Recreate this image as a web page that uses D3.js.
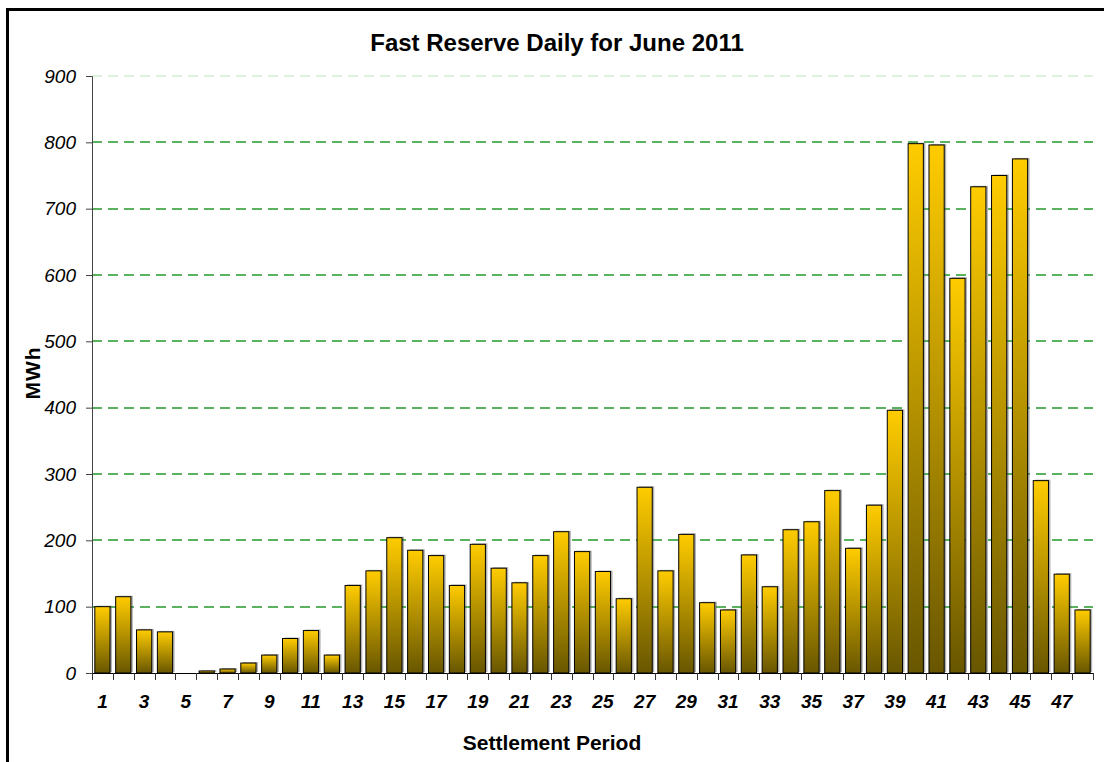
<!DOCTYPE html>
<html lang="en">
<head>
    <meta charset="UTF-8">
    <title>Fast Reserve Daily for June 2011</title>
    <script src="https://cdn.jsdelivr.net/npm/d3@7"></script>
    <style>
        body {
            margin: 0;
            padding: 0;
            background: #fff;
        }
        text {
            font-family: "Liberation Sans", Arial, sans-serif;
            fill: #000;
        }
        .frame {
            fill: none;
            stroke: #000;
            stroke-width: 3;
        }
        .grid line {
            stroke: #22992a;
            stroke-width: 1.4;
            stroke-dasharray: 10 6;
        }
        .grid line.top {
            stroke: #d4eed4;
        }
        .bar {
            stroke: #000;
            stroke-width: 1;
        }
        .shadow {
            fill: #555;
            opacity: .45;
        }
        .ylab text {
            font-size: 19px;
            font-style: italic;
        }
        .xlab text {
            font-size: 19px;
            font-style: italic;
            font-weight: bold;
        }
    </style>
</head>
<body>
<svg width="1104" height="762"></svg>
<script>
    // settlement periods 1..48
    var periods = d3.range(1, 49);
    // MWh per period
    var values = [
        100, 115, 65, 62, 0, 3, 6, 15, 27, 52,
        64, 27, 132, 154, 204, 185, 177, 132, 194, 158,
        136, 177, 213, 183, 153, 112, 280, 154, 209, 106,
        95, 178, 130, 216, 228, 275, 188, 253, 396, 798,
        796, 595, 733, 750, 775, 290, 149, 95
    ];
    var yTicks = [0, 100, 200, 300, 400, 500, 600, 700, 800, 900];
    var xLabels = periods.filter(function (p) { return p % 2 === 1; });

    var plotL = 92, plotR = 1093, plotT = 76, plotB = 673;

    var svg = d3.select('svg');

    // outer frame (only left and top edges are visible in the picture)
    svg.append('rect')
        .attr('class', 'frame')
        .attr('x', 7.5)
        .attr('y', 9.5)
        .attr('width', 1120)
        .attr('height', 780);

    var x = d3.scaleBand()
        .domain(periods)
        .range([plotL, plotR])
        .paddingInner(0.27)
        .paddingOuter(0.135);

    var y = d3.scaleLinear()
        .domain([0, 900])
        .range([plotB, plotT]);

    // gradient for the bars: gold on top, dark olive at the foot
    var grad = svg.append('defs').append('linearGradient')
        .attr('id', 'gold')
        .attr('x1', 0).attr('y1', 0)
        .attr('x2', 0).attr('y2', 1);
    grad.append('stop').attr('offset', '0%').attr('stop-color', '#ffcc00');
    grad.append('stop').attr('offset', '100%').attr('stop-color', '#685600');

    // gridlines
    svg.append('g')
        .attr('class', 'grid')
        .selectAll('line')
        .data(yTicks.filter(function (t) { return t > 0; }))
        .enter().append('line')
        .attr('class', function (d) { return d === 900 ? 'top' : null; })
        .attr('x1', plotL)
        .attr('x2', plotR)
        .attr('y1', function (d) { return Math.round(y(d)); })
        .attr('y2', function (d) { return Math.round(y(d)); });

    var data = periods.map(function (p, i) { return { p: p, v: values[i] }; });
    var bars = svg.append('g').selectAll('g')
        .data(data.filter(function (d) { return d.v > 0; }))
        .enter().append('g');

    bars.append('rect')
        .attr('class', 'shadow')
        .attr('x', function (d) { return x(d.p) + 2; })
        .attr('y', function (d) { return y(d.v) - 1; })
        .attr('width', x.bandwidth())
        .attr('height', function (d) { return plotB - y(d.v); });

    bars.append('rect')
        .attr('class', 'bar')
        .attr('fill', 'url(#gold)')
        .attr('x', function (d) { return x(d.p); })
        .attr('y', function (d) { return y(d.v); })
        .attr('width', x.bandwidth())
        .attr('height', function (d) { return plotB - y(d.v); });

    // y axis
    var yAxis = svg.append('g')
        .attr('class', 'ylab')
        .attr('transform', 'translate(' + plotL + ',0)')
        .call(d3.axisLeft(y).tickValues(yTicks).tickSize(6).tickPadding(10));
    yAxis.select('.domain').attr('stroke', '#444');
    yAxis.selectAll('.tick line').attr('stroke', '#444');
    yAxis.selectAll('text').attr('font-family', null).attr('font-size', null);

    // x axis: labels on odd periods, ticks on the category edges
    var xAxis = svg.append('g')
        .attr('class', 'xlab')
        .attr('transform', 'translate(0,' + plotB + ')')
        .call(d3.axisBottom(x).tickValues(xLabels).tickSize(0).tickPadding(22));
    xAxis.select('.domain').remove();
    xAxis.selectAll('text').attr('font-family', null).attr('font-size', null);

    svg.append('line')
        .attr('x1', plotL).attr('x2', plotR)
        .attr('y1', plotB + 0.5).attr('y2', plotB + 0.5)
        .attr('stroke', '#000');

    var step = x.step();
    svg.append('g').selectAll('line')
        .data(d3.range(0, periods.length + 1))
        .enter().append('line')
        .attr('x1', function (i) { return Math.round(plotL + i * step) + 0.5; })
        .attr('x2', function (i) { return Math.round(plotL + i * step) + 0.5; })
        .attr('y1', plotB)
        .attr('y2', plotB + 7)
        .attr('stroke', '#333');

    // titles
    svg.append('text')
        .attr('x', 557)
        .attr('y', 51)
        .attr('text-anchor', 'middle')
        .style('font-size', '24px')
        .style('font-weight', 'bold')
        .text('Fast Reserve Daily for June 2011');

    svg.append('text')
        .attr('x', 552)
        .attr('y', 750)
        .attr('text-anchor', 'middle')
        .style('font-size', '21px')
        .style('font-weight', 'bold')
        .text('Settlement Period');

    svg.append('text')
        .attr('transform', 'translate(40,373) rotate(-90)')
        .attr('text-anchor', 'middle')
        .style('font-size', '21px')
        .style('font-weight', 'bold')
        .style('letter-spacing', '1px')
        .text('MWh');
</script>
</body>
</html>
